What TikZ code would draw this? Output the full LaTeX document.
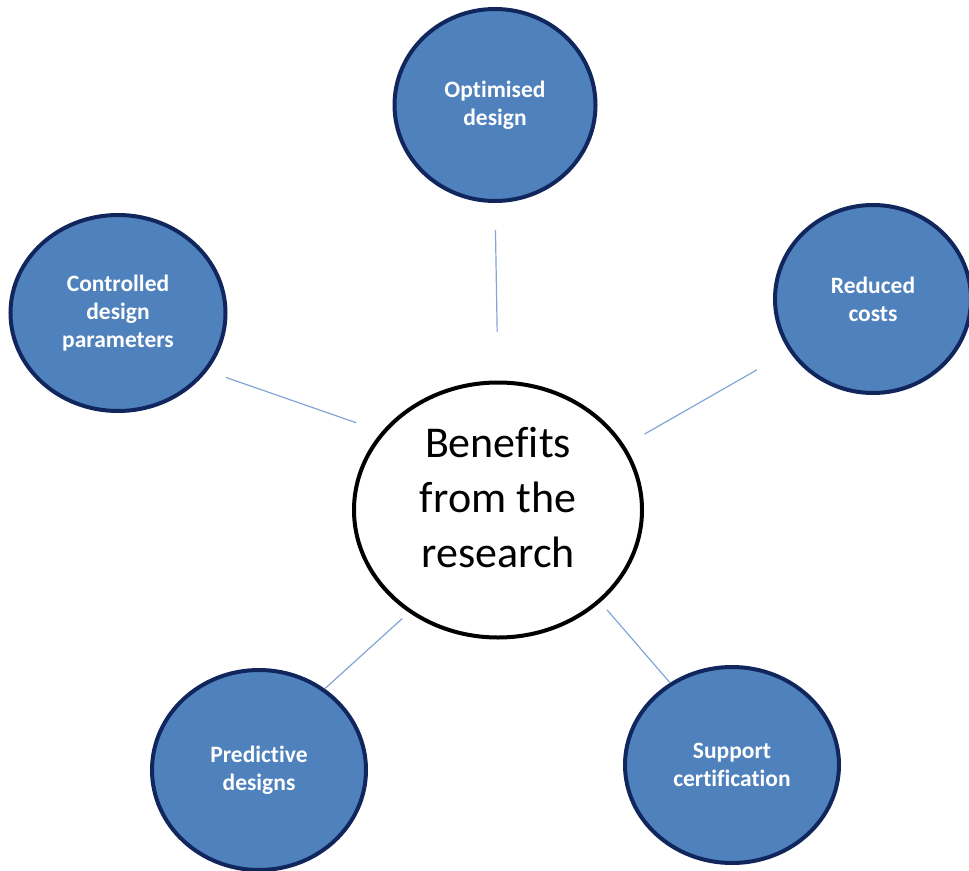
\documentclass[tikz,border=0pt]{standalone}
\usepackage{fontspec}
\setmainfont{Carlito}[Ligatures=NoCommon]
\usetikzlibrary{shapes.geometric}
\definecolor{benefitfill}{RGB}{79,129,189}
\definecolor{benefitline}{RGB}{16,38,92}
\definecolor{linkline}{RGB}{130,165,215}

\begin{document}
\begin{tikzpicture}[x=1pt, y=-1pt,
    benefit/.style={ellipse, draw=benefitline, line width=4pt, fill=benefitfill, text=white, inner sep=0pt, align=center, font=\fontsize{23.5}{28}\selectfont\bfseries},
    hub/.style={ellipse, draw=black, line width=4pt, fill=white, inner sep=0pt, align=center, minimum width=288pt, minimum height=255pt, text depth=26pt, font=\fontsize{44}{55}\selectfont},
    link/.style={draw=linkline, line width=1.2pt},]
    \useasboundingbox (0,0) rectangle (969,870);
    \node[hub] (hub) at (498,510) {Benefits\\from the\\research};
    \node[benefit, minimum width=201pt, minimum height=192pt] (optim) at (495,105) {Optimised\\design};
    \node[benefit, minimum width=215pt, minimum height=196pt] (control) at (118,313) {Controlled\\design\\parameters};
    \node[benefit, minimum width=196pt, minimum height=188pt] (costs) at (873,299) {Reduced\\costs};
    \node[benefit, minimum width=214pt, minimum height=200pt] (predict) at (259,770) {Predictive\\designs};
    \node[benefit, minimum width=214pt, minimum height=196pt] (support) at (732,765) {Support\\certification};
    % spokes, kept short of the circles
    \draw[link, shorten <=27pt, shorten >=49pt] (optim.-90) -- (hub.90);
    \draw[link, shorten <=20pt, shorten >=27pt] (control.-33) -- (hub.146);
    \draw[link, shorten <=23pt, shorten >=37pt] (hub.27) -- (costs.212);
    \draw[link, shorten <=9pt] (hub.-131) -- (predict.51);
    \draw[link, shorten <=10pt] (hub.-42) -- (support.127);
\end{tikzpicture}
\end{document}
